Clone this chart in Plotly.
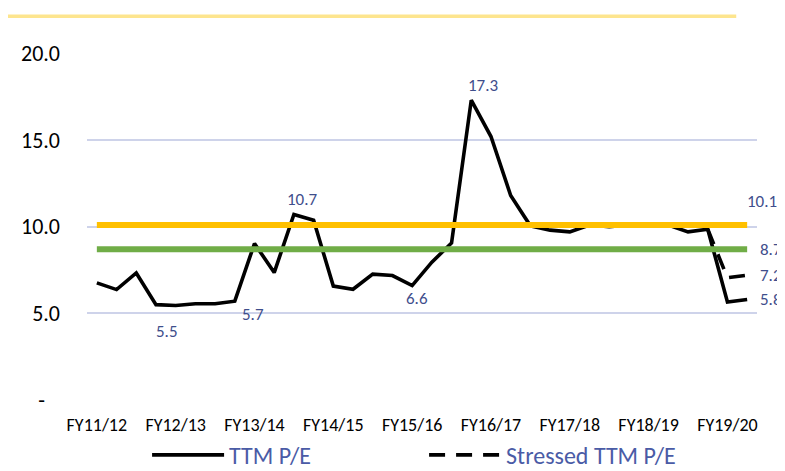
import plotly.graph_objects as go

# ---- data ----
quarters = list(range(34))  # quarterly observations FY11/12 Q1 ... FY19/20 Q2
tick_idx = [0, 4, 8, 12, 16, 20, 24, 28, 32]
tick_labels = ["FY11/12", "FY12/13", "FY13/14", "FY14/15", "FY15/16",
               "FY16/17", "FY17/18", "FY18/19", "FY19/20"]
ttm_pe = [6.76, 6.37, 7.33, 5.5, 5.45, 5.55, 5.55, 5.7, 9.03, 7.35,
          10.7, 10.37, 6.57, 6.39, 7.26, 7.18, 6.6, 7.95, 9.06, 17.3,
          15.2, 11.8, 10.05, 9.8, 9.7, 10.1, 10.0, 10.1, 10.1, 10.1,
          9.7, 9.85, 5.65, 5.8]
stressed_pe = [None] * 31 + [9.85, 7.05, 7.2]
avg_10y = 10.1
avg_5y = 8.7
y_ticks = [0, 5, 10, 15, 20]
y_tick_text = ["-\u00a0\u00a0\u00a0", "5.0", "10.0", "15.0", "20.0"]

FONT = "Calibri, Carlito, Lato, sans-serif"
LABEL_COLOR = "#3f4e8c"
LEGEND_COLOR = "#4a5ba6"

fig = go.Figure()

fig.add_trace(go.Scatter(
    x=quarters, y=stressed_pe, mode="lines", name="Stressed TTM P/E",
    line=dict(color="black", width=3.6, dash="16px,11px"),
    connectgaps=False, hoverinfo="skip", legendrank=2))
fig.add_trace(go.Scatter(
    x=quarters, y=ttm_pe, mode="lines", name="TTM P/E",
    line=dict(color="black", width=3.6), hoverinfo="skip", legendrank=1))
fig.add_trace(go.Scatter(
    x=[quarters[0], quarters[-1]], y=[avg_5y, avg_5y], mode="lines",
    line=dict(color="#70ad47", width=6), showlegend=False, hoverinfo="skip"))
fig.add_trace(go.Scatter(
    x=[quarters[0], quarters[-1]], y=[avg_10y, avg_10y], mode="lines",
    line=dict(color="#ffc000", width=6), showlegend=False, hoverinfo="skip"))


def lab(i, v, dx, dy):
    fig.add_annotation(x=quarters[i], y=v, text=f"{v:.1f}", showarrow=False,
                       xshift=dx, yshift=dy,
                       font=dict(family=FONT, size=17, color=LABEL_COLOR))


lab(3, ttm_pe[3], 11, -27)
lab(7, ttm_pe[7], 18, -13)
lab(10, ttm_pe[10], 9, 15)
lab(16, ttm_pe[16], 5, -13)
lab(19, ttm_pe[19], 12, 15)
lab(33, avg_10y, 15, 23)
lab(33, avg_5y, 24, 0)
lab(33, stressed_pe[33], 24, 0)
lab(33, ttm_pe[33], 24, 0)

# decorative top rule
fig.add_shape(type="line", xref="paper", yref="paper",
              x0=-0.118, x1=0.969, y0=1.106, y1=1.106,
              line=dict(color="#fde58e", width=3.5))

# page body has an 8px margin, so the figure is 8px smaller on each axis
fig.update_layout(
    width=777, height=463,
    margin=dict(l=79, r=28, t=45, b=71, autoexpand=False),
    paper_bgcolor="white", plot_bgcolor="white",
    font=dict(family=FONT, color="black"),
    showlegend=True,
    legend=dict(orientation="h", xref="container", yref="container",
                x=0.179, xanchor="left", y=0.034, yanchor="middle",
                itemwidth=72, entrywidth=190, entrywidthmode="pixels",
                font=dict(family=FONT, size=24, color=LEGEND_COLOR),
                bgcolor="rgba(0,0,0,0)"),
    xaxis=dict(range=[-0.5, 33.5], tickmode="array", tickvals=tick_idx,
               ticktext=tick_labels, showgrid=False, zeroline=False,
               showline=False, ticks="", ticklabelstandoff=12,
               tickfont=dict(family=FONT, size=18, color="black")),
    yaxis=dict(range=[0, 20.02], tickmode="array", tickvals=y_ticks,
               ticktext=y_tick_text, showgrid=True, gridcolor="#ced3ea",
               gridwidth=2, zeroline=False, showline=False, ticks="",
               ticklabelstandoff=26,
               tickfont=dict(family=FONT, size=22, color="black")),
)

fig.write_html("out.html")
